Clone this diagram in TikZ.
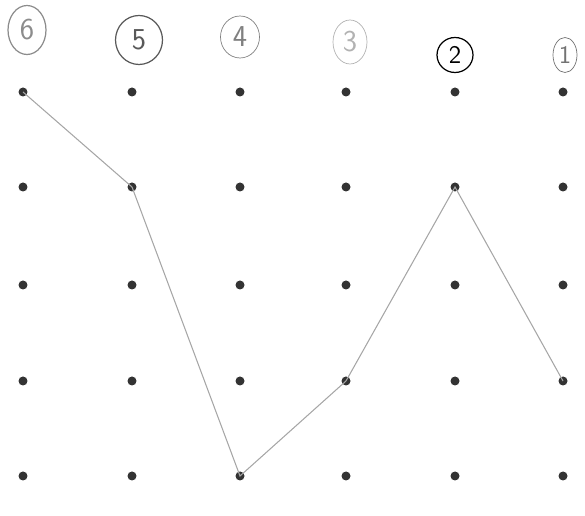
\documentclass[tikz,border=0pt]{standalone}
\usepackage{tikz}
\usetikzlibrary{calc,positioning,shapes.geometric}

\begin{document}
\begin{tikzpicture}[
  x=0.02cm, y=-0.02cm,
  every node/.style={inner sep=0pt},
  dot/.style={circle, fill=black!80, minimum size=1.8mm},
  numlabel/.style={ellipse, draw, font=\LARGE\sffamily, line width=0.7pt},
  walk/.style={draw=black!35, line width=0.6pt}
]
\useasboundingbox (0,0) rectangle (585,516);
% grid of dots
\foreach \c/\x in {1/23,2/132,3/240,4/346,5/455,6/563}
  \foreach \r/\y in {1/92,2/187,3/285,4/381,5/476}
    \node[dot] (d\c\r) at (\x,\y) {};
% column numbers
\node[numlabel, draw=black!45, text=black!45, minimum width=7.6mm, minimum height=9.8mm] (n6) at (27,30) {6};
\node[numlabel, draw=black!65, text=black!65, minimum width=9.4mm, minimum height=9.8mm] (n5) at (139,40) {5};
\node[numlabel, draw=black!50, text=black!50, line width=0.4pt, minimum width=7.8mm, minimum height=8.4mm] (n4) at (240,37) {4};
\node[numlabel, draw=black!30, text=black!30, line width=0.4pt, minimum width=6.8mm, minimum height=8.8mm] (n3) at (350,42) {3};
\node[numlabel, draw=black, text=black, minimum width=7.2mm, minimum height=7mm, font=\Large\sffamily] (n2) at (455,55) {2};
\node[numlabel, draw=black!55, text=black!55, line width=0.4pt, minimum width=4.8mm, minimum height=7mm, font=\Large\sffamily] (n1) at (565,55) {1};
% the walk
\draw[walk] (d11.center) -- (d22.center) -- (d35.center) -- (d44.center) -- (d52.center) -- (d64.center);
\end{tikzpicture}
\end{document}
